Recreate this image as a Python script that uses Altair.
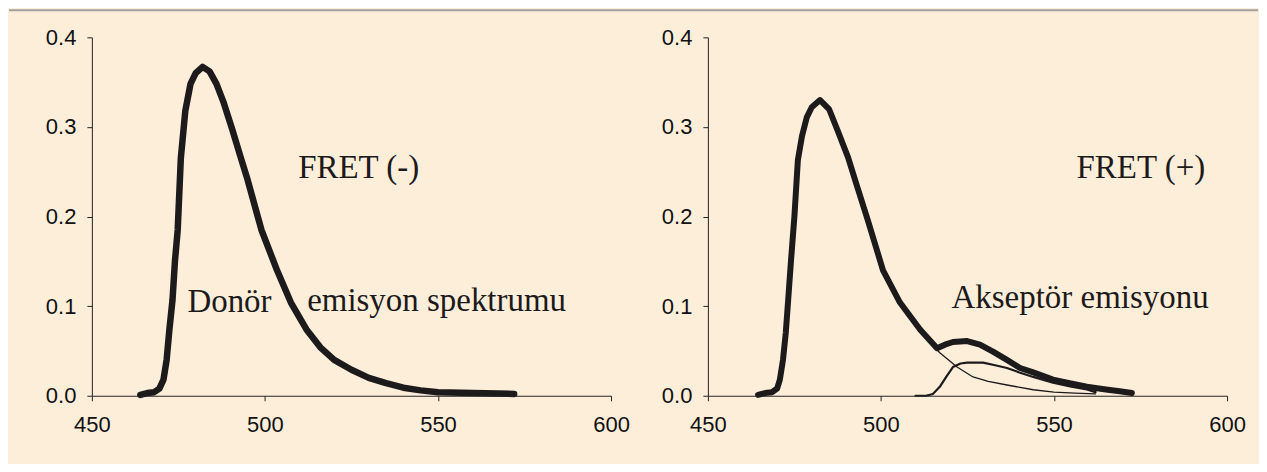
import altair as alt
import pandas as pd

# ---- data ----
# FRET (-) : donor emission spectrum
wl_neg = [464, 466, 468, 469.5, 470.7, 471.6, 472.4, 473.3, 474, 474.8, 475.7, 477, 478.5, 480, 482,
          484, 486, 488, 490.5, 493, 495, 499, 503.5, 507.5, 512, 516, 520, 525, 530, 535, 540,
          545, 550, 560, 572]
val_neg = [0.001, 0.003, 0.004, 0.008, 0.018, 0.04, 0.074, 0.107, 0.15, 0.185, 0.265, 0.318, 0.348,
           0.36, 0.367, 0.362, 0.348, 0.328, 0.298, 0.266, 0.241, 0.185, 0.14, 0.104, 0.074, 0.054,
           0.04, 0.029, 0.02, 0.014, 0.009, 0.006, 0.004, 0.003, 0.002]

# FRET (+) : total emission
wl_tot = [464.5, 466.5, 468.5, 470, 470.8, 471.7, 472.5, 473.2, 474, 475, 476, 477.2, 478.6, 480,
          482.4, 485, 487.5, 490.5, 493, 496.2, 500.6, 505.5, 511.3, 516.2, 518.5, 520.8, 524.9,
          528.6, 532.5, 536.4, 540.2, 544, 549.7, 554.5, 559.5, 565, 569, 572.5]
val_tot = [0.001, 0.003, 0.004, 0.008, 0.018, 0.04, 0.07, 0.107, 0.15, 0.2, 0.263, 0.29, 0.311,
           0.322, 0.33, 0.32, 0.296, 0.266, 0.235, 0.196, 0.14, 0.104, 0.074, 0.053, 0.057, 0.06,
           0.061, 0.057, 0.049, 0.04, 0.031, 0.026, 0.018, 0.014, 0.01, 0.007, 0.005, 0.003]

# FRET (+) : donor part (thin line)
wl_don = [511.3, 514, 517, 522, 526.6, 531, 536.4, 544, 550, 556, 562]
val_don = [0.074, 0.06, 0.048, 0.032, 0.021, 0.016, 0.012, 0.0067, 0.004, 0.003, 0.002]

# FRET (+) : acceptor emission
wl_acc = [510, 513, 515, 517, 519, 520.8, 523, 524.9, 529.5, 533, 536.4, 540, 544, 549.7, 555,
          559.5, 562]
val_acc = [0, 0, 0.002, 0.01, 0.022, 0.032, 0.036, 0.037, 0.037, 0.034, 0.031, 0.026, 0.021,
           0.0145, 0.01, 0.007, 0.004]

x_ticks = [450, 500, 550, 600]
y_ticks = [0.0, 0.1, 0.2, 0.3, 0.4]

# annotations: text, wavelength, value (left edge / baseline)
lab_neg_text = ["FRET (-)", "Donör", "emisyon spektrumu"]
lab_neg_x = [509.6, 477.6, 512.2]
lab_neg_y = [0.243, 0.0936, 0.095]
lab_pos_text = ["FRET (+)", "Akseptör emisyonu"]
lab_pos_x = [556.5, 520.4]
lab_pos_y = [0.243, 0.098]

BG = "#FDEEDA"
INK = "#1c1a1a"
W, H = 520, 359

xscale = alt.Scale(domain=[450, 600], nice=False, zero=False)
yscale = alt.Scale(domain=[0, 0.4], nice=False)

xaxis = alt.Axis(values=x_ticks, format="d", title=None, grid=False, zindex=1,
                 labelFont="Liberation Sans", labelFontSize=22, labelColor="#111",
                 tickSize=5, labelPadding=14, domainColor="#222", tickColor="#222",
                 labelFlush=False, labelOverlap=False)
yaxis = alt.Axis(values=y_ticks, format=".1f", title=None, grid=False, zindex=1,
                 labelFont="Liberation Sans", labelFontSize=22, labelColor="#111",
                 tickSize=5, labelPadding=11, domainColor="#222", tickColor="#222",
                 labelFlush=False, labelOverlap=False)


def line(wl, val, width):
    df = pd.DataFrame({"wl": wl, "v": val})
    return alt.Chart(df).mark_line(color=INK, strokeWidth=width, strokeJoin="round",
                                   strokeCap="round").encode(
        x=alt.X("wl:Q", scale=xscale, axis=xaxis),
        y=alt.Y("v:Q", scale=yscale, axis=yaxis),
        order="wl:Q",
    )


def labels(texts, xs, ys):
    df = pd.DataFrame({"t": texts, "wl": xs, "v": ys})
    return alt.Chart(df).mark_text(font="Liberation Serif", fontSize=33, color=INK,
                                   align="left", baseline="alphabetic").encode(
        x=alt.X("wl:Q", scale=xscale, axis=xaxis),
        y=alt.Y("v:Q", scale=yscale, axis=yaxis),
        text="t:N",
    )


one = pd.DataFrame({"k": [0]})
frame = alt.Chart(one).mark_rect(fill=BG, fillOpacity=0, strokeOpacity=0).encode(
    x=alt.value(-83), x2=alt.value(1168), y=alt.value(-29), y2=alt.value(427))
topline = alt.Chart(one).mark_rule(color="#a0a0a0", strokeWidth=2).encode(
    x=alt.value(-83), x2=alt.value(1168), y=alt.value(-27))

left = alt.layer(
    frame, topline,
    line(wl_neg, val_neg, 6.5),
    labels(lab_neg_text, lab_neg_x, lab_neg_y),
).properties(width=W, height=H)

right = alt.layer(
    line(wl_don, val_don, 1.3),
    line(wl_acc, val_acc, 2.2),
    line(wl_tot, val_tot, 6.0),
    labels(lab_pos_text, lab_pos_x, lab_pos_y),
).properties(width=W, height=H)

chart = alt.hconcat(left, right, spacing=97, bounds="flush", padding=0,
                    background=BG).configure_view(stroke=None, fill=None)

chart.save("out.html", embed_options={"renderer": "svg", "actions": False})
